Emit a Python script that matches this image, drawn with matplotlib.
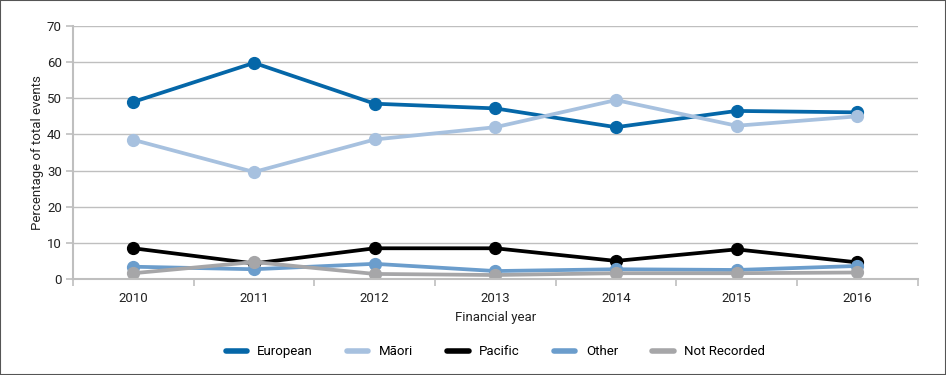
import matplotlib.pyplot as plt
from matplotlib.patches import Rectangle

plt.rcParams['font.family'] = ['Roboto', 'DejaVu Sans']

years = ['2010', '2011', '2012', '2013', '2014', '2015', '2016']
european = [49.0, 59.8, 48.5, 47.2, 42.0, 46.5, 46.1]
maori = [38.5, 29.6, 38.6, 42.0, 49.5, 42.4, 45.0]
pacific = [8.5, 4.3, 8.5, 8.5, 5.0, 8.2, 4.6]
other = [3.4, 2.7, 4.2, 2.2, 2.7, 2.5, 3.6]
not_recorded = [1.6, 4.7, 1.4, 1.1, 1.6, 1.6, 1.8]

series = [
    ('European', european, '#0567a8'),
    ('Māori', maori, '#a7c1df'),
    ('Pacific', pacific, '#000000'),
    ('Other', other, '#6b9dcc'),
    ('Not Recorded', not_recorded, '#a6a6a8'),
]

fig = plt.figure(figsize=(9.46, 3.75), dpi=100)
ax = fig.add_axes([0.0772, 0.256, 0.8928, 0.6747])

x = range(len(years))
for name, vals, col in series:
    ax.plot(x, vals, color=col, lw=2.7, marker='o', ms=8.5, label=name,
            solid_capstyle='round')

grid_col = '#bfbfbf'
ax.set_xlim(-0.5, len(years) - 0.5)
ax.set_ylim(0, 70)
ax.set_yticks(range(0, 71, 10))
ax.set_xticks(list(x))
ax.set_xticklabels(years)
ax.set_xticks([i - 0.5 for i in range(len(years) + 1)], minor=True)
ax.tick_params(axis='x', which='major', length=0, pad=9, labelsize=9.5, colors='#222222')
ax.tick_params(axis='x', which='minor', length=5, color=grid_col, width=1.2)
ax.tick_params(axis='y', length=5, color=grid_col, width=1.2, labelsize=9.5,
               labelcolor='#222222', pad=3)
ax.yaxis.grid(True, color=grid_col, lw=1)
ax.set_axisbelow(True)
for s in ['top', 'right']:
    ax.spines[s].set_visible(False)
for s in ['left', 'bottom']:
    ax.spines[s].set_color(grid_col)
    ax.spines[s].set_linewidth(1.5)

ax.set_xlabel('Financial year', fontsize=9.5, color='#222222', labelpad=5)
ax.set_ylabel('Percentage of total events', fontsize=9.5, color='#222222', labelpad=2)

handles = [plt.Line2D([], [], color=col, lw=4, solid_capstyle='round') for _, _, col in series]
ax.legend(handles, [n for n, _, _ in series], loc='upper center',
          bbox_to_anchor=(0.5, -0.215), ncol=5, frameon=False, fontsize=9.5,
          handlelength=1.6, columnspacing=2.6, handletextpad=0.8)

fig.patches.append(Rectangle((0, 0), 1, 1, transform=fig.transFigure, fill=False,
                             edgecolor='#555555', lw=1.5))

fig.savefig('out.png', dpi=100)
